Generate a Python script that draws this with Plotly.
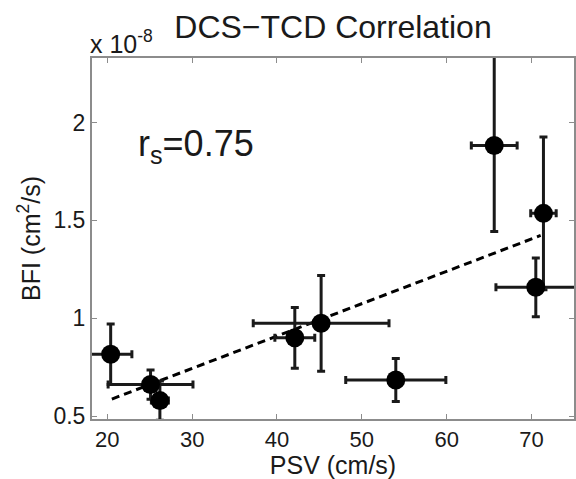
import plotly.graph_objects as go

# Data (BFI in units of 1e-8 cm^2/s)
psv = [20.4, 25.1, 26.2, 42.1, 45.2, 54.0, 65.6, 71.4, 70.5]
bfi = [0.816, 0.661, 0.579, 0.900, 0.974, 0.684, 1.883, 1.536, 1.158]
psv_err = [2.5, 5.0, 1.0, 2.35, 8.0, 5.9, 2.7, 1.5, 4.7]
bfi_err_plus = [0.155, 0.075, 0.10, 0.155, 0.245, 0.11, 0.50, 0.39, 0.15]
bfi_err_minus = [0.155, 0.075, 0.10, 0.155, 0.245, 0.11, 0.44, 0.39, 0.15]

fit_x = [20.54, 71.07]
fit_y = [0.587, 1.423]

x_ticks = [20, 30, 40, 50, 60, 70]
y_ticks = [0.5, 1, 1.5, 2]
y_tick_labels = ["0.5", "1", "1.5", "2"]

font_family = "Liberation Sans, Arial, sans-serif"
axis_col = "#8c8c8c"
ink = "#1a1a1a"

fig = go.Figure()

fig.add_trace(go.Scatter(
    x=fit_x, y=fit_y, mode="lines",
    line=dict(color="black", width=3, dash="8px,5px"),
    hoverinfo="skip", showlegend=False,
))

fig.add_trace(go.Scatter(
    x=psv, y=bfi, mode="markers",
    marker=dict(color="black", size=19),
    error_x=dict(type="data", array=psv_err, color=ink, thickness=3, width=4),
    error_y=dict(type="data", array=bfi_err_plus, arrayminus=bfi_err_minus,
                 color=ink, thickness=3, width=4),
    showlegend=False,
))

fig.update_layout(
    width=576, height=479,
    margin=dict(l=92, r=0, t=58, b=60),
    paper_bgcolor="white", plot_bgcolor="white",
    font=dict(family=font_family, color=ink),
    title=dict(text="DCS\u2212TCD Correlation", x=0.5, xref="paper",
               y=1 - 27 / 479, yanchor="middle", xanchor="center",
               font=dict(size=32, color=ink)),
    xaxis=dict(range=[18.2, 75.0], tickvals=x_ticks,
               showline=True, linecolor=axis_col, linewidth=2, mirror="ticks",
               ticks="inside", ticklen=5, tickcolor=axis_col, tickwidth=1,
               showgrid=False, zeroline=False,
               tickfont=dict(size=22, color=ink),
               title=dict(text="PSV (cm/s)", font=dict(size=25, color=ink), standoff=5)),
    yaxis=dict(range=[0.485, 2.33], tickvals=y_ticks, ticktext=y_tick_labels,
               showline=True, linecolor=axis_col, linewidth=2, mirror="ticks",
               ticks="inside", ticklen=5, tickcolor=axis_col, tickwidth=1,
               showgrid=False, zeroline=False,
               tickfont=dict(size=23, color=ink),
               title=dict(text="BFI (cm<sup>2</sup>/s)", font=dict(size=25, color=ink), standoff=6)),
    annotations=[
        dict(text="x 10<sup>-8</sup>", xref="paper", yref="paper", x=0, y=1,
             xanchor="left", yanchor="bottom", xshift=-4, yshift=-2, showarrow=False,
             font=dict(size=25, color=ink)),
        dict(text="r<sub>s</sub>=0.75", xref="paper", yref="paper", x=0.092, y=0.756,
             xanchor="left", yanchor="middle", showarrow=False,
             font=dict(size=36, color=ink)),
    ],
)

fig.write_html("out.html")
